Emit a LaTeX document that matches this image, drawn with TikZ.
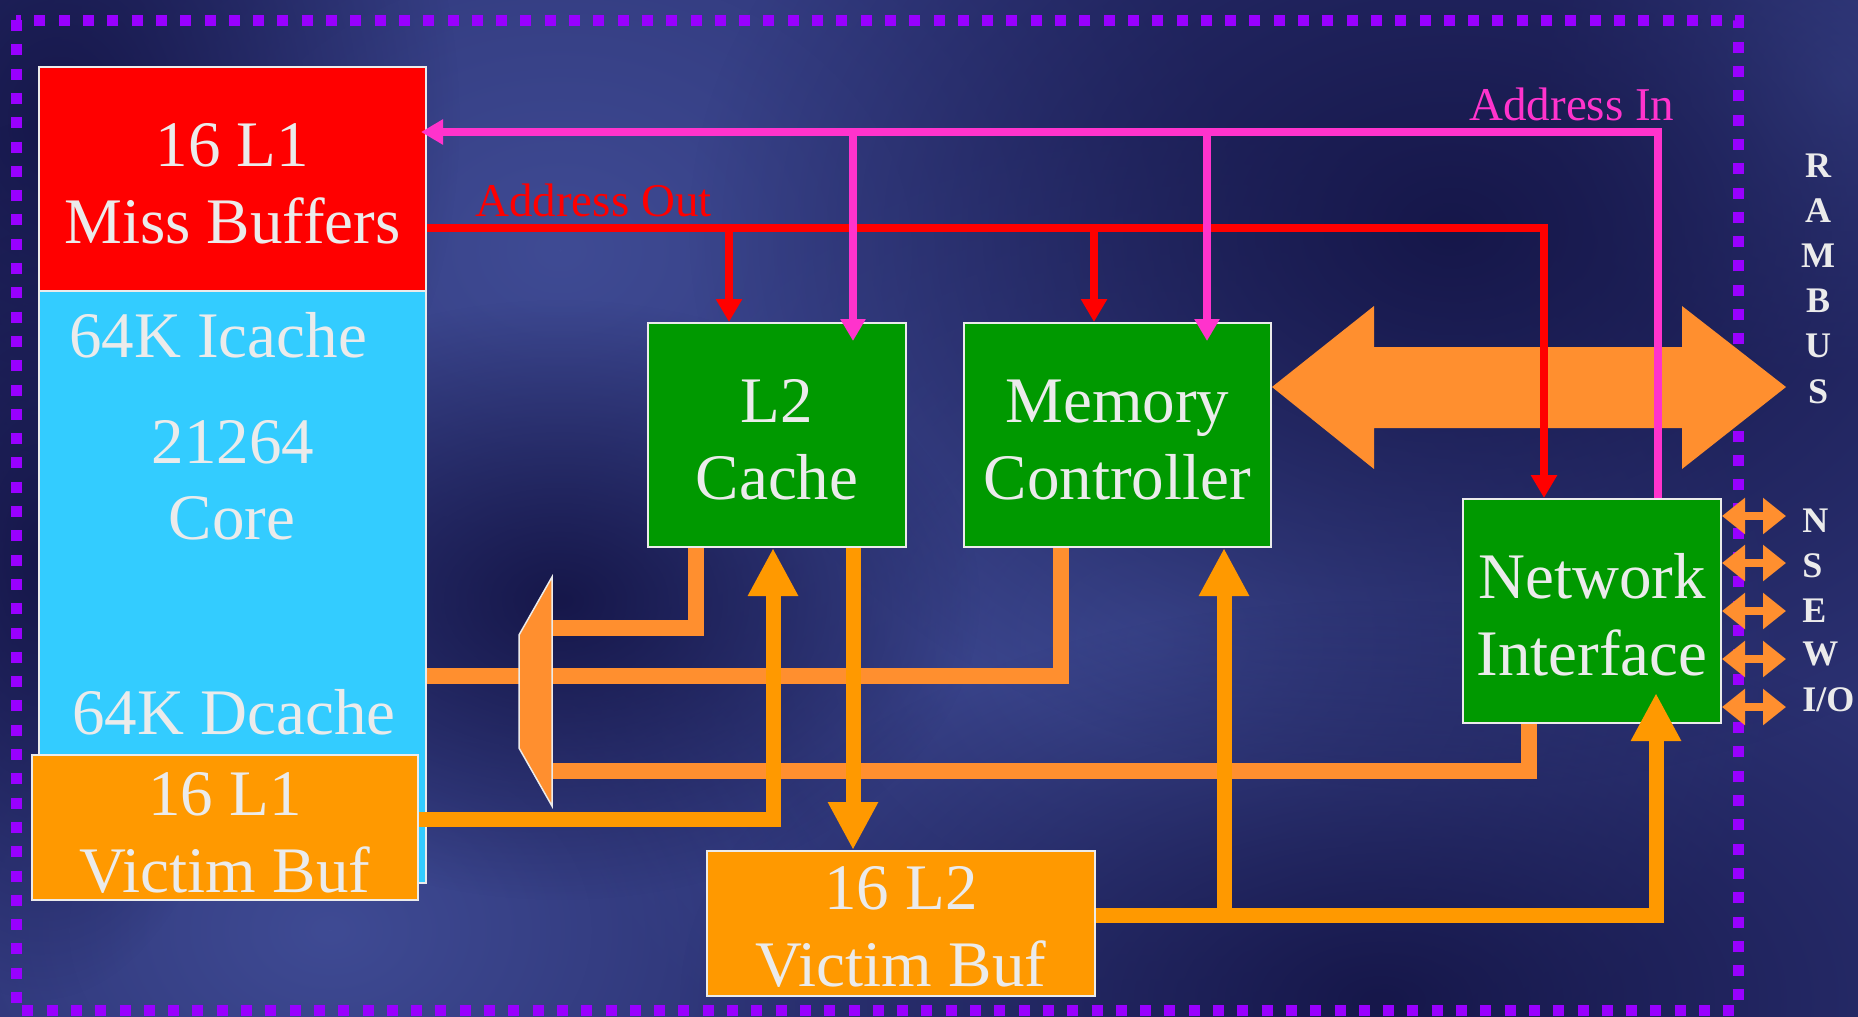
\documentclass[tikz,border=0pt]{standalone}
\usepackage{fontspec}
\setmainfont{Liberation Serif}
\usetikzlibrary{arrows.meta,fadings,calc}

\definecolor{bgbase}{HTML}{2B3172}
\definecolor{bglight}{HTML}{3F4B94}
\definecolor{bgdark}{HTML}{16174A}
\definecolor{mbred}{HTML}{FF0000}
\definecolor{corecyan}{HTML}{33CCFF}
\definecolor{boxgreen}{HTML}{009900}
\definecolor{vicorange}{HTML}{FF9900}
\definecolor{muxorange}{HTML}{FF8F2F}
\definecolor{pinkline}{HTML}{FF33CC}
\definecolor{borderviolet}{HTML}{9900FF}
\definecolor{txt}{HTML}{EBEBEB}

\tikzfading[name=blobfade, inner color=transparent!0, outer color=transparent!100]

\tikzset{
  blk/.style={draw=txt, line width=1pt, inner sep=0pt},
  btxt/.style={text=txt, font=\fontsize{32.5}{38.5}\selectfont, align=center, inner sep=0pt},
  lbl/.style={text=txt, font=\fontsize{32.5}{38.5}\selectfont, inner sep=0pt},
  addr/.style={font=\fontsize{23.5}{28}\selectfont, inner sep=0pt, anchor=base west},
  side/.style={text=txt, font=\fontsize{18}{20}\selectfont\bfseries, inner sep=0pt},
  redl/.style={draw=mbred, line width=4pt, -{Triangle[length=11.5pt,width=12.5pt]}},
  pinkl/.style={draw=pinkline, line width=3.75pt, -{Triangle[length=11pt,width=12pt]}},
  orangeA/.style={draw=muxorange, line width=7.75pt, line join=miter},
  orangeB/.style={draw=vicorange, line width=7.5pt, line join=miter, -{Triangle[length=24pt,width=23.5pt]}},
  nsew/.style={draw=muxorange, line width=4.25pt, {Triangle[length=11.5pt,width=17.5pt]}-{Triangle[length=11.5pt,width=17.5pt]}},
}

\begin{document}
\begin{tikzpicture}[x=0.5pt,y=-0.5pt]
\useasboundingbox (0,0) rectangle (1858,1017);
% background
\fill[bgbase] (0,0) rectangle (1858,1017);
\begin{scope}
\clip (0,0) rectangle (1858,1017);
\fill[bglight, path fading=blobfade] (560,250) ellipse (700 and 560);
\fill[bglight, path fading=blobfade] (1150,640) ellipse (640 and 520);
\fill[bglight, path fading=blobfade] (330,930) ellipse (520 and 380);
\fill[bglight, path fading=blobfade] (1840,80) ellipse (300 and 300);
\fill[bgdark, path fading=blobfade] (1450,230) ellipse (760 and 560);
\fill[bgdark, path fading=blobfade] (1380,1000) ellipse (700 and 400);
\fill[bgdark, path fading=blobfade] (60,120) ellipse (400 and 500);
\fill[bgdark, path fading=blobfade] (560,600) ellipse (420 and 300);
\fill[bgdark, path fading=blobfade] (40,560) ellipse (220 and 440);
\end{scope}

% dotted border
\draw[borderviolet, line width=5.5pt, dash pattern=on 5.5pt off 6.65pt] (16,20) rectangle (1738,1010);

% boxes
\node[blk, fill=mbred, minimum width=193.5pt, minimum height=112pt] (MB) at (232.5,179) {};
\node[btxt] (MBt) at ($(MB.center)+(0,5)$) {16 L1\\Miss Buffers};
\node[blk, fill=corecyan, minimum width=193.5pt, minimum height=296pt] (core) at (232.5,587) {};
\node[lbl, anchor=base] (icache) at (218,357) {64K Icache};
\node[lbl, anchor=base] (cnum) at (233,463) {21264};
\node[lbl, anchor=base] (cword) at (232,539) {Core};
\node[lbl, anchor=base] (dcache) at (234,734) {64K Dcache};
\node[blk, fill=vicorange, minimum width=193pt, minimum height=72.5pt] (L1VB) at (225,827.5) {};
\node[btxt] (L1VBt) at ($(L1VB.center)+(0,5)$) {16 L1\\Victim Buf};
\node[blk, fill=boxgreen, minimum width=129pt, minimum height=112pt] (L2) at (777,435) {};
\node[btxt] (L2t) at ($(L2.center)+(0,5)$) {L2\\Cache};
\node[blk, fill=boxgreen, minimum width=153.5pt, minimum height=112pt] (MC) at (1117.5,435) {};
\node[btxt] (MCt) at ($(MC.center)+(0,5)$) {Memory\\Controller};
\node[blk, fill=boxgreen, minimum width=129pt, minimum height=112pt] (NI) at (1592,611) {};
\node[btxt] (NIt) at ($(NI.center)+(0,4)$) {Network\\Interface};
\node[blk, fill=vicorange, minimum width=194pt, minimum height=72.5pt] (L2VB) at (901,923.5) {};
\node[btxt] (L2VBt) at ($(L2VB.center)+(0,3)$) {16 L2\\Victim Buf};

% address labels
\node[addr, text=mbred] (aoutlbl) at (475,216) {Address Out};
\node[addr, text=pinkline] (ainlbl) at (1469,120) {Address In};

% mux corner coordinates
\coordinate (mxtr) at (552,577);
\coordinate (mxtl) at (519,635);
\coordinate (mxbl) at (519,748);
\coordinate (mxbr) at (552,806);

% orange data paths into the mux
\coordinate (l2o) at (696,628);
\draw[orangeA] (L2.south -| l2o) -- (l2o) -- (mxtr |- l2o);
\coordinate (mcin) at (1061,676);
\draw[orangeA] (core.east |- mcin) -- (mcin) -- (mcin |- MC.south);
\coordinate (nio) at (1529,771);
\draw[orangeA] (NI.south -| nio) -- (nio) -- (mxtr |- nio);

% mux
\filldraw[fill=muxorange, draw=txt, line width=0.75pt] (mxtr) -- (mxtl) -- (mxbl) -- (mxbr) -- cycle;

% victim buffer paths
\coordinate (v1c) at (773,819);
\draw[orangeB] (L1VB.east |- v1c) -- (v1c) -- (v1c |- L2.south);
\coordinate (l2d) at (853,547);
\draw[orangeB] (L2.south -| l2d) -- (L2VB.north -| l2d);
\coordinate (v3c) at (1656,915);
\draw[orangeB] (L2VB.east |- v3c) -- (v3c) -- ($(v3c |- NI.south)+(0,-31)$);
\coordinate (v4c) at (1224,915);
\draw[orangeB] (v4c) -- (v4c |- MC.south);

% RAMBUS double arrow
\fill[muxorange] (MC.east |- 0,387) -- (1374,306) -- (1374,347) -- (1682,347) -- (1682,306) -- (1786,387) -- (1682,469) -- (1682,428) -- (1374,428) -- (1374,469) -- cycle;

% address out (red)
\coordinate (aout) at (1544,228);
\draw[redl] (MB.east |- aout) -- (aout) -- (aout |- NI.north);
\coordinate (r1) at (729,228);
\draw[redl] (r1) -- (r1 |- L2.north);
\coordinate (r2) at (1094,228);
\draw[redl] (r2) -- (r2 |- MC.north);

% address in (pink)
\coordinate (ain) at (1658,132);
\draw[pinkl] (ain |- NI.north) -- (ain) -- ($(MB.east |- ain)+(-6,0)$);
\coordinate (p1) at (853,132);
\draw[pinkl] (p1) -- ($(p1 |- L2.north)+(0,19)$);
\coordinate (p2) at (1207,132);
\draw[pinkl] (p2) -- ($(p2 |- MC.north)+(0,19)$);

% N S E W I/O links
\foreach \c in {516,563,611,659,707}
  \draw[nsew] (NI.east |- 0,\c) -- (1786,\c);

\node[side, anchor=base west] (sN) at (1802,532) {N};
\node[side, anchor=base west] (sS) at (1802,577) {S};
\node[side, anchor=base west] (sE) at (1802,622) {E};
\node[side, anchor=base west] (sW) at (1802,665) {W};
\node[side, anchor=base west] (sIO) at (1802,711) {I/O};

% RAMBUS
\node[side, anchor=base] (rR) at (1818,177) {R};
\node[side, anchor=base] (rA) at (1818,222) {A};
\node[side, anchor=base] (rM) at (1818,267) {M};
\node[side, anchor=base] (rB) at (1818,312) {B};
\node[side, anchor=base] (rU) at (1818,357) {U};
\node[side, anchor=base] (rS) at (1818,403) {S};
\end{tikzpicture}
\end{document}
